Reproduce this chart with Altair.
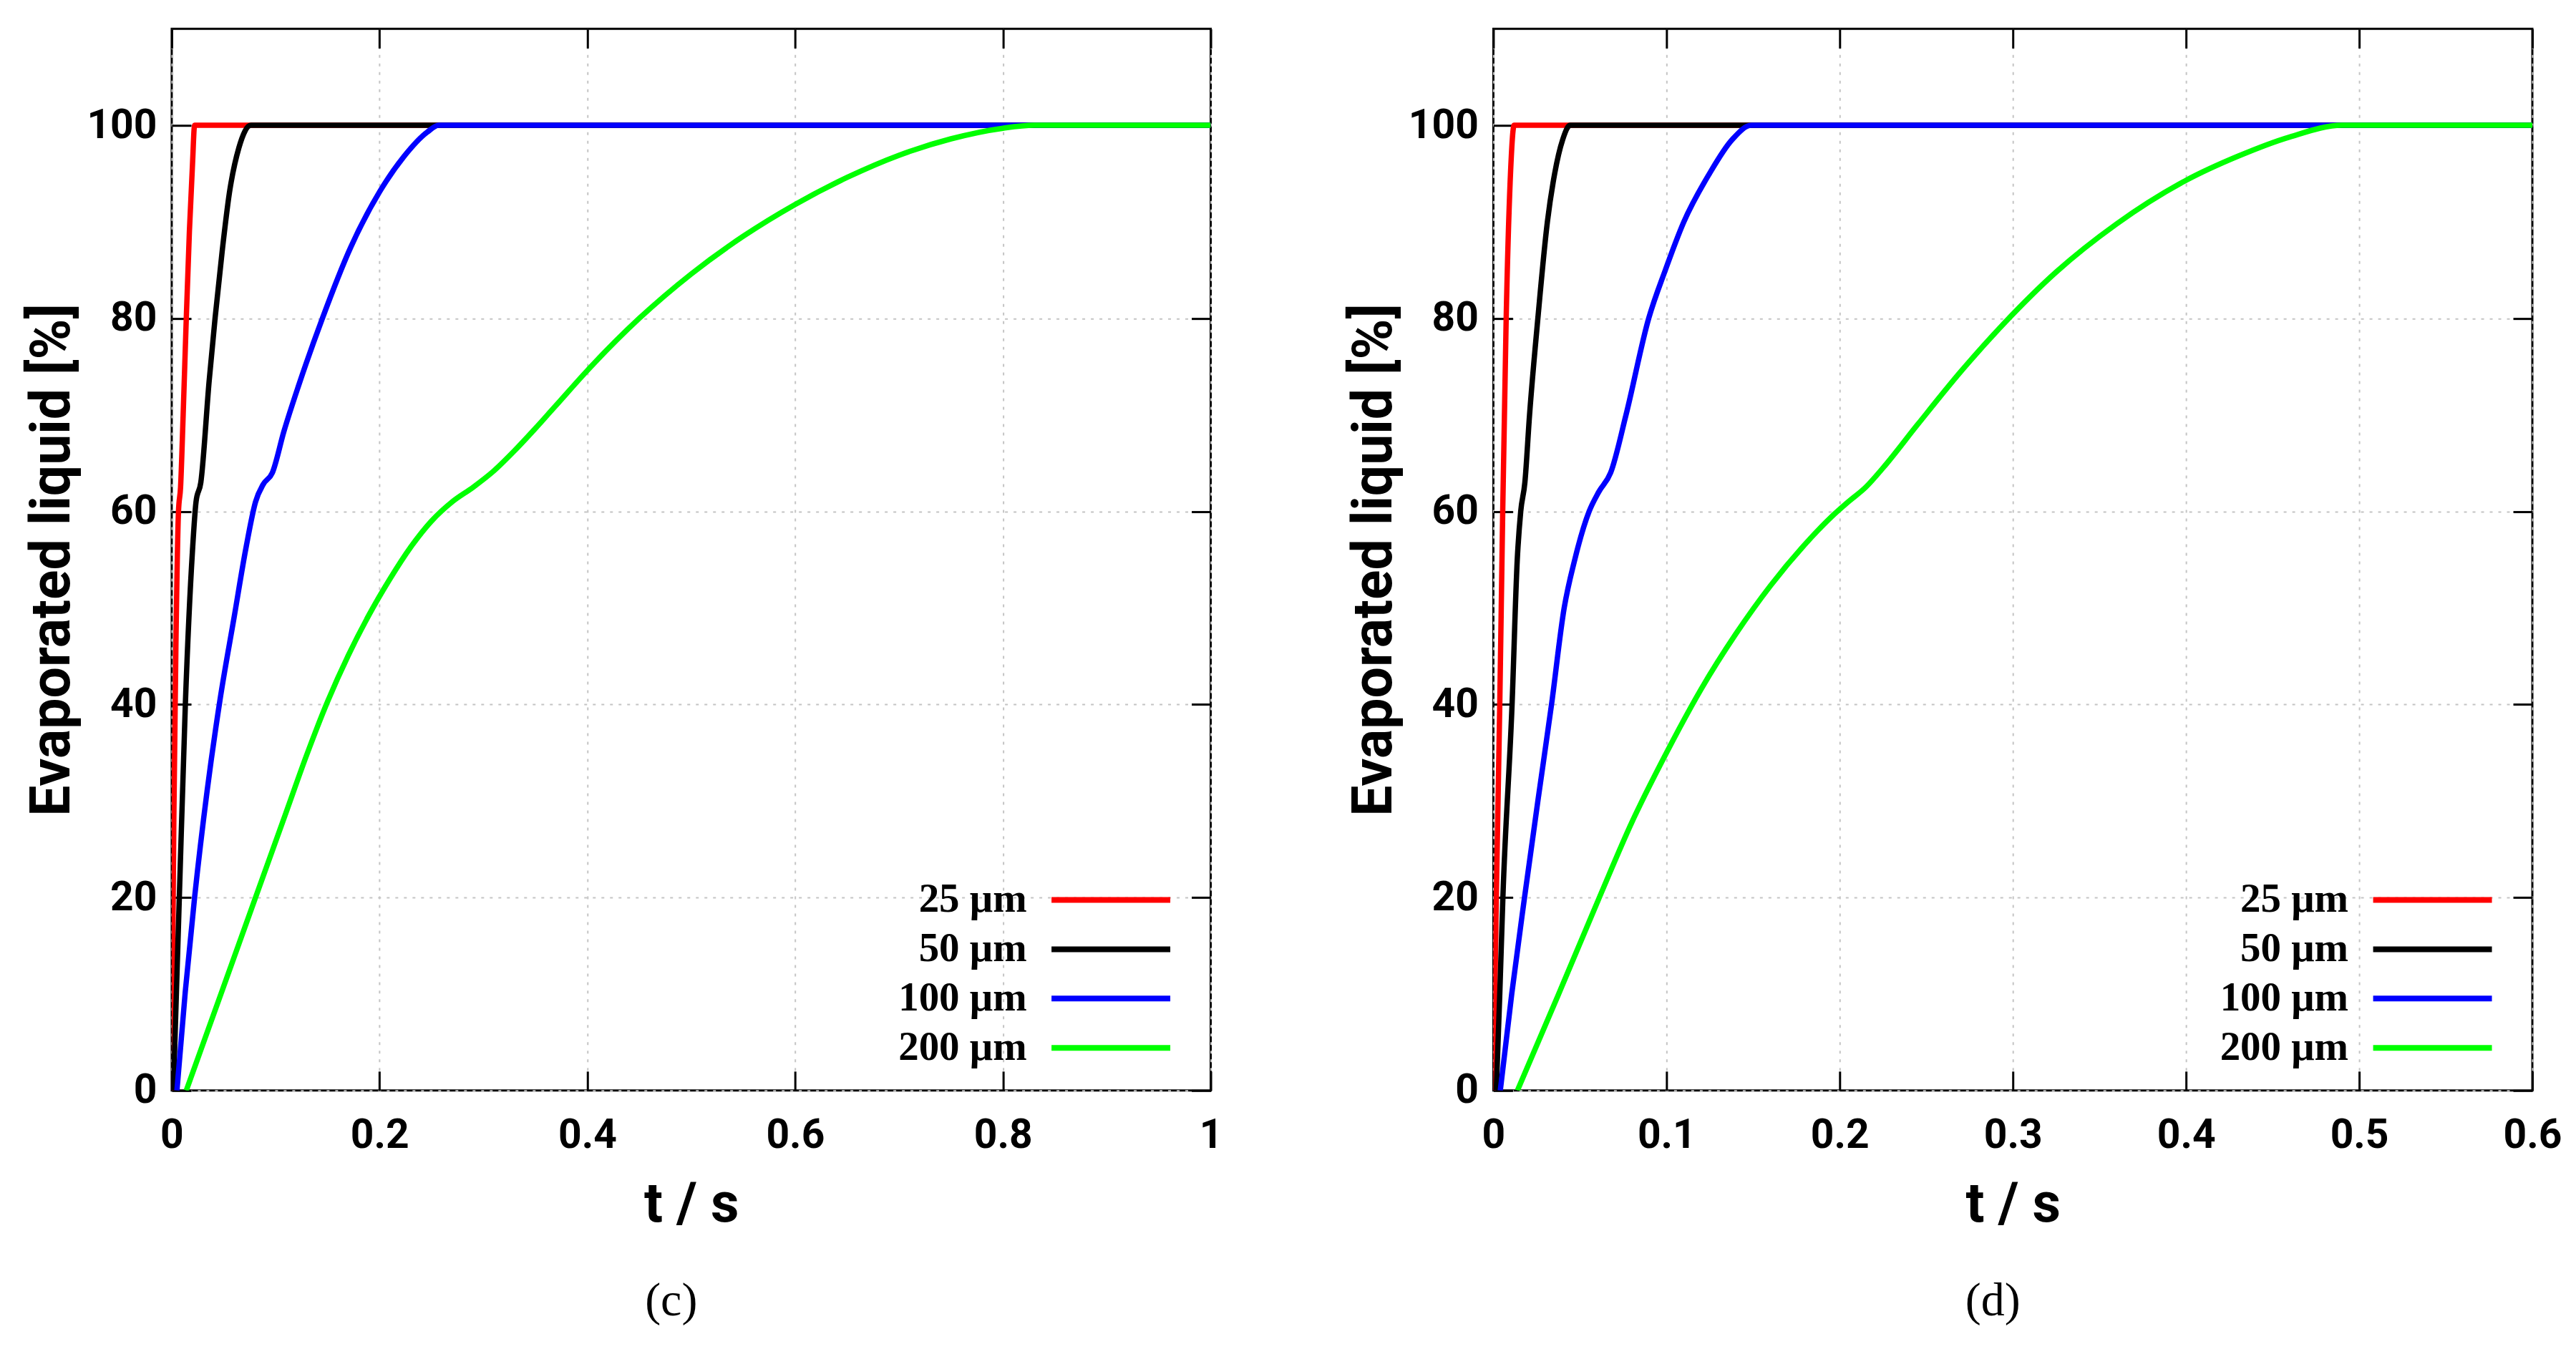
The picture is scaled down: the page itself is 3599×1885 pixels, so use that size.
import altair as alt
import pandas as pd

SERIES = ["25 μm", "50 μm", "100 μm", "200 μm"]
COLORS = ["#ff0000", "#000000", "#0000ff", "#00ff00"]

# ---- panel (c) ----
c_red_t = [0.0, 0.0005, 0.002, 0.004, 0.0065, 0.0085, 0.011, 0.014, 0.017, 0.020, 0.022, 1.0]
c_red_v = [0, 8, 28, 46, 60, 62.5, 70, 80, 89, 96, 100, 100]

c_black_t = [0.0016, 0.0073, 0.0131, 0.020, 0.0234, 0.028, 0.036, 0.0417, 0.0486, 0.0555, 0.0647, 0.0761, 1.0]
c_black_v = [0, 20, 40, 56, 61, 63, 73.5, 80, 87, 93, 97.7, 100, 100]

c_blue_t = [0.005, 0.013, 0.022, 0.034, 0.0465, 0.060, 0.0716, 0.0807, 0.088, 0.0968, 0.108, 0.122,
            0.145, 0.172, 0.200, 0.223, 0.246, 0.257, 1.0]
c_blue_v = [0, 10.2, 20, 31, 40.5, 49, 56.3, 61, 62.8, 64, 68.3, 73, 80, 87.3, 93.1, 96.7, 99.3, 100, 100]

c_green_t = [0.014, 0.05, 0.08, 0.11, 0.13, 0.15, 0.17, 0.19, 0.21, 0.23, 0.25, 0.27, 0.29, 0.31, 0.33,
             0.35, 0.37, 0.40, 0.45, 0.50, 0.55, 0.60, 0.65, 0.70, 0.75, 0.80, 0.83, 1.0]
c_green_v = [0, 10.8, 19.8, 28.8, 34.8, 40.3, 45.1, 49.3, 53, 56.3, 59, 61, 62.5, 64.2, 66.3, 68.6, 71,
             74.6, 80, 84.6, 88.5, 91.8, 94.6, 96.9, 98.6, 99.7, 100, 100]

# ---- panel (d) ----
d_red_t = [0.0, 0.0017, 0.0037, 0.0054, 0.0074, 0.0099, 0.012, 0.6]
d_red_v = [0, 20, 40, 60, 80, 95, 100, 100]

d_black_t = [0.0017, 0.0037, 0.0055, 0.0108, 0.0138, 0.0158, 0.0182, 0.0209, 0.0257, 0.0312, 0.0354,
             0.040, 0.0443, 0.6]
d_black_v = [0, 10, 20, 40, 55, 60, 63, 70, 80, 90, 95, 98.5, 100, 100]

d_blue_t = [0.0040, 0.0106, 0.0180, 0.0257, 0.0336, 0.0409, 0.047, 0.0553, 0.0608, 0.0677, 0.0766,
            0.0897, 0.0993, 0.110, 0.1248, 0.1378, 0.149, 0.6]
d_blue_v = [0, 10, 20, 30, 40, 50, 55, 60, 62, 64, 70, 80, 85, 90, 95, 98.5, 100, 100]

d_green_t = [0.0139, 0.0377, 0.0612, 0.08, 0.1, 0.12, 0.14, 0.16, 0.18, 0.195, 0.205, 0.215, 0.225,
             0.245, 0.27, 0.295, 0.325, 0.36, 0.40, 0.43, 0.46, 0.49, 0.6]
d_green_v = [0, 10, 20, 27.8, 35.0, 41.6, 47.3, 52.3, 56.6, 59.4, 61, 62.5, 64.5, 69, 74.5, 79.5, 84.8,
             89.8, 94.3, 96.8, 98.8, 100, 100]

C_XTICKS = [0, 0.2, 0.4, 0.6, 0.8, 1]
D_XTICKS = [0, 0.1, 0.2, 0.3, 0.4, 0.5, 0.6]
YTICKS = [0, 20, 40, 60, 80, 100]

W, H = 1452, 1484
TICK = 27


def make_df(ts, vs):
    rows = []
    for name, t, v in zip(SERIES, ts, vs):
        for a, b in zip(t, v):
            rows.append({"series": name, "t": a, "v": b})
    return pd.DataFrame(rows)


def panel(df, xmax, xticks, caption):
    xs = alt.Scale(domain=[0, xmax], nice=False, zero=False)
    ys = alt.Scale(domain=[0, 110], nice=False)
    # legend sample line drawn to the right of its right-aligned label (gnuplot style key)
    legend = alt.Legend(
        title=None, orient="none", legendX=1138, legendY=1189, padding=0,
        symbolType="M 3.15 0 L 11.45 0", symbolSize=1600, symbolStrokeWidth=8,
        symbolOffset=0, labelAlign="right", labelOffset=0,
        labelBaseline="middle", rowPadding=11,
        labelFont="Liberation Serif", labelFontWeight="bold", labelFontSize=57,
        labelColor="black", labelLimit=600,
    )
    color = alt.Color("series:N", scale=alt.Scale(domain=SERIES, range=COLORS), legend=legend)
    x_main = alt.Axis(orient="bottom", values=xticks, format="~g", title="t / s", grid=True,
                      ticks=False, tickSize=0, domain=False, labelPadding=35, labelFlush=False,
                      labelOverlap=False, titleX=W / 2, titleY=122)
    y_main = alt.Axis(orient="left", values=YTICKS, title="Evaporated liquid [%]", grid=True,
                      ticks=False, tickSize=0, domain=False, labelPadding=21, labelFlush=False,
                      labelOverlap=False, titleX=-127, titleY=H / 2)
    base = alt.Chart(df)
    layers = []
    for k, name in enumerate(SERIES):
        xa = x_main if k == 0 else None
        ya = y_main if k == 0 else None
        layers.append(
            base.transform_filter(alt.datum.series == name)
            .mark_line(strokeWidth=7.5, interpolate="monotone", clip=True)
            .encode(x=alt.X("t:Q", scale=xs, axis=xa),
                    y=alt.Y("v:Q", scale=ys, axis=ya),
                    color=color)
        )
    tick_common = dict(labels=False, domain=False, grid=False, ticks=True, tickSize=TICK,
                       tickWidth=3, tickColor="black", title=None)
    layers.append(
        base.mark_line(strokeOpacity=0).encode(
            x=alt.X("t:Q", scale=xs, axis=alt.Axis(orient="bottom", offset=-TICK, values=xticks, **tick_common)),
            y=alt.Y("v:Q", scale=ys, axis=alt.Axis(orient="left", offset=-TICK, values=YTICKS, **tick_common)),
            detail="series:N")
    )
    layers.append(
        base.mark_line(strokeOpacity=0).encode(
            x=alt.X("t:Q", scale=xs, axis=alt.Axis(orient="top", offset=-TICK, values=xticks, **tick_common)),
            y=alt.Y("v:Q", scale=ys, axis=alt.Axis(orient="right", offset=-TICK, values=YTICKS, **tick_common)),
            detail="series:N")
    )
    return alt.layer(*layers).resolve_axis(x="independent", y="independent").properties(
        width=W, height=H,
        title=alt.TitleParams(text=caption, orient="bottom", anchor="middle", frame="group",
                              font="Liberation Serif", fontSize=66, fontWeight="normal",
                              color="black", offset=64, dx=-28),
    )


p_c = panel(make_df([c_red_t, c_black_t, c_blue_t, c_green_t], [c_red_v, c_black_v, c_blue_v, c_green_v]),
            1.0, C_XTICKS, "(c)")
p_d = panel(make_df([d_red_t, d_black_t, d_blue_t, d_green_t], [d_red_v, d_black_v, d_blue_v, d_green_v]),
            0.6, D_XTICKS, "(d)")

chart = (
    alt.hconcat(p_c, p_d, spacing=395, bounds="flush")
    .resolve_legend(color="independent")
    .properties(padding={"left": 25, "top": 29, "right": 10, "bottom": 5}, background="white")
    .configure_view(stroke="black", strokeWidth=3)
    .configure_axis(labelFont="Roboto", labelFontWeight="bold", labelFontSize=57, labelColor="black",
                    titleFont="Roboto", titleFontWeight="bold", titleFontSize=77, titleColor="black",
                    gridColor="#c4c4c4", gridDash=[4, 8], gridWidth=2, gridOpacity=1)
)

chart.save("out.html", embed_options={"renderer": "svg", "actions": False})
